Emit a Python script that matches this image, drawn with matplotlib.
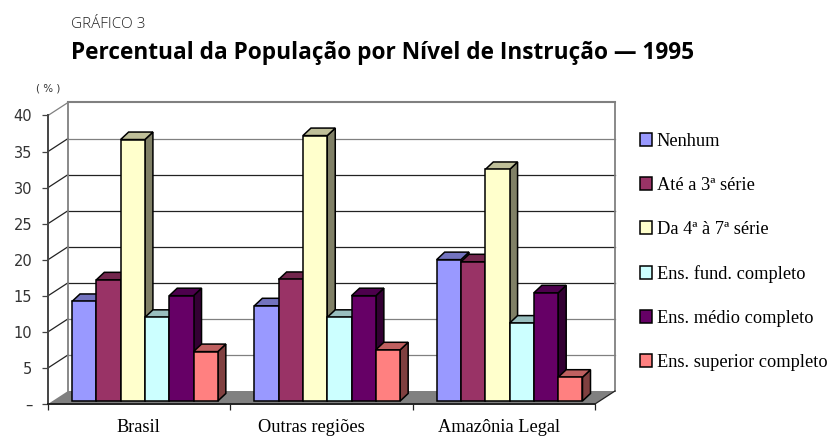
import matplotlib
matplotlib.use("Agg")
from matplotlib import pyplot as plt
from matplotlib.patches import Patch, Polygon
from matplotlib.colors import to_rgb

categories = ["Brasil", "Outras regiões", "Amazônia Legal"]
series_names = ["Nenhum", "Até a 3ª série", "Da 4ª à 7ª série",
                "Ens. fund. completo", "Ens. médio completo", "Ens. superior completo"]
nenhum = [13.8, 13.2, 19.6]
ate_3 = [16.8, 16.85, 19.3]
da_4_a_7 = [36.25, 36.8, 32.1]
fund = [11.6, 11.6, 10.8]
medio = [14.6, 14.6, 15.0]
superior = [6.85, 7.1, 3.3]
series = [nenhum, ate_3, da_4_a_7, fund, medio, superior]
colors = ["#9999FF", "#993366", "#FFFFCC", "#CCFFFF", "#660066", "#FF8080"]
y_ticks = [0, 5, 10, 15, 20, 25, 30, 35, 40]
y_labels = ["–", "5", "10", "15", "20", "25", "30", "35", "40"]

W, H = 829, 436
px_x = 1 / 182.3   # one pixel in category units
px_y = 1 / 7.21    # one pixel in percent units

fig = plt.figure(figsize=(W / 100, H / 100), dpi=100)
ax = fig.add_axes([48 / W, (H - 404) / H, 547 / W, 288.5 / H])
ax.set_xlim(0, 3)
ax.set_ylim(0, 40)

wall_x, wall_y = 20 * px_x, 13 * px_y
depth_x, depth_y = 8 * px_x, 7.5 * px_y
base = 3 * px_y
bar_w = 24.3 * px_x
first = 24 * px_x


def shade(color, f):
    return tuple(c * f for c in to_rgb(color))


def poly(points, **kw):
    ax.add_patch(Polygon(points, closed=True, clip_on=False, **kw))


# floor
poly([(0, 0), (3, 0), (3 + wall_x, wall_y), (wall_x, wall_y)],
     facecolor="#808080", edgecolor="none", zorder=1)

# grid on the back and side wall
for v in y_ticks[1:]:
    top = v == 40
    grid_c = "#808080" if v in (40, 35, 10, 5) else "#222222"
    ax.plot([wall_x, 3 + wall_x], [v + wall_y, v + wall_y], color=grid_c,
            lw=1.5 if top else 0.9, clip_on=False, zorder=2)
    ax.plot([0, wall_x], [v, v + wall_y], color="#808080" if top else "#222222",
            lw=0.9, clip_on=False, zorder=2)
ax.plot([wall_x, wall_x], [wall_y, 40 + wall_y], color="#808080", lw=1.3, clip_on=False, zorder=2)
ax.plot([3 + wall_x, 3 + wall_x], [wall_y, 40 + wall_y], color="#808080", lw=1.3, clip_on=False, zorder=2)
ax.plot([3, 3 + wall_x], [0, wall_y], color="#222222", lw=0.9, clip_on=False, zorder=2)

# bars, left to right so each one covers the side of the one before
z = 3
for g in range(len(categories)):
    for s, values in enumerate(series):
        x0 = g + first + s * bar_w
        x1 = x0 + bar_w
        y1 = base + values[g]
        poly([(x1, base), (x1 + depth_x, base + depth_y),
              (x1 + depth_x, y1 + depth_y), (x1, y1)],
             facecolor=shade(colors[s], 0.5), edgecolor="black", lw=1.1, zorder=z)
        poly([(x0, y1), (x1, y1), (x1 + depth_x, y1 + depth_y), (x0 + depth_x, y1 + depth_y)],
             facecolor=shade(colors[s], 0.75), edgecolor="black", lw=1.1, zorder=z)
        ax.bar(x0, values[g], width=bar_w, bottom=base, align="edge", color=colors[s],
               edgecolor="black", lw=1.1, zorder=z + 0.5, clip_on=False)
        z += 1

for side in ("top", "right"):
    ax.spines[side].set_visible(False)
ax.patch.set_visible(False)
ax.spines["left"].set_color("#444444")
ax.spines["left"].set_linewidth(1.4)
ax.spines["bottom"].set_color("#222222")
ax.spines["bottom"].set_linewidth(1.4)
ax.spines["left"].set_zorder(200)
ax.spines["bottom"].set_zorder(200)

ax.set_yticks(y_ticks)
ax.set_yticklabels(y_labels, family="DejaVu Sans", fontsize=10.5, color="#333333")
ax.tick_params(axis="y", length=4.3, width=0.9, color="#444444", pad=7)
ax.set_xticks([0, 1, 2, 3])
ax.set_xticklabels([])
ax.tick_params(axis="x", which="major", length=4.3, width=0.9, color="#222222")
ax.set_xticks([0.496, 1.443, 2.474], minor=True)
ax.set_xticklabels(categories, minor=True, family="Liberation Serif", fontsize=13.2)
ax.tick_params(axis="x", which="minor", length=0, pad=10.7)

handles = [Patch(facecolor=c, edgecolor="black", lw=1.1) for c in colors]
fig.legend(handles, series_names, loc="upper left", bbox_to_anchor=(640 / W, 1 - 133 / H),
           frameon=False, prop={"family": "Liberation Serif", "size": 13.2},
           handlelength=0.66, handleheight=0.66, handletextpad=0.25,
           labelspacing=1.475, borderpad=0, borderaxespad=0)

fig.text(71 / W, 1 - 24 / H, "GRÁFICO 3", family="Open Sans", fontsize=11,
         weight="light", color="#222222", va="center", ha="left")
fig.text(71 / W, 1 - 53 / H, "Percentual da População por Nível de Instrução — 1995",
         family="Open Sans", fontsize=16.25, weight="bold", color="black", va="center", ha="left")
fig.text(48 / W, 1 - 88.5 / H, "( % )", family="DejaVu Sans", fontsize=7.5,
         color="#333333", va="center", ha="center")

fig.savefig("out.png", dpi=100)
